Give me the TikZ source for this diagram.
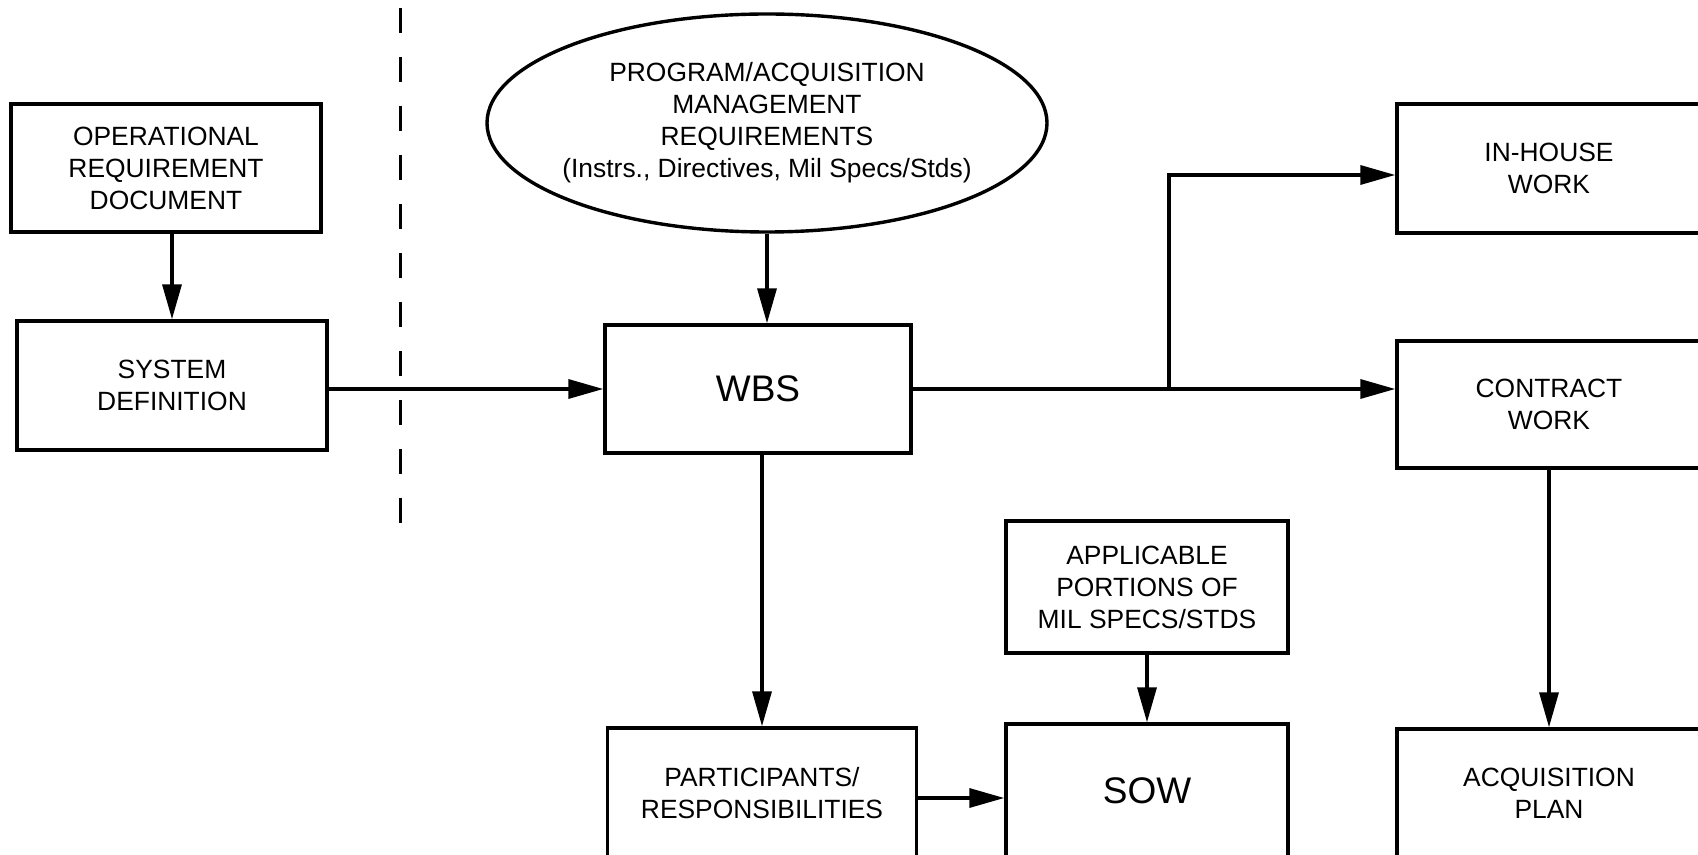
\documentclass[tikz,border=0pt]{standalone}
\usepackage{fontspec}
\setmainfont{Liberation Sans}
\usetikzlibrary{positioning, shapes.geometric, arrows.meta}
\tikzstyle{chart} = [x = .5pt, y = -.5pt]
\newcommand{\boxFont}{\fontsize{13.2}{16}\selectfont}
\newcommand{\bigBoxFont}{\fontsize{18.5}{22}\selectfont}
\tikzstyle{boxStyle} = [draw, line width = 1.7pt, inner sep = 0pt, align = center, font = \boxFont]
\tikzstyle{bigBoxStyle} = [boxStyle, font = \bigBoxFont]
\tikzstyle{ellipseStyle} = [draw, ellipse, line width = 1.7pt, inner sep = 0pt]
\tikzstyle{ellipseText} = [align = center, font = \boxFont]
\tikzstyle{flowArrow} = [line width = 1.7pt, -{Triangle[length = 17.5pt, width = 9.5pt]}]
\tikzstyle{dividerLine} = [line width = 1.5pt, dash pattern = on 12.5pt off 12pt]
\newcommand{\planBox}[5]{\node [boxStyle, minimum width = #3, minimum height = #4] (#1) at (#2) {#5};}
\newcommand{\bigPlanBox}[5]{\node [bigBoxStyle, minimum width = #3, minimum height = #4] (#1) at (#2) {#5};}

\begin{document}
\begin{tikzpicture}[chart]
  \useasboundingbox (0,0) rectangle (1698,855);

  % boxes
  \planBox{ord}{166,168}{155pt}{64pt}{OPERATIONAL\\REQUIREMENT\\DOCUMENT}
  \planBox{sysDef}{172,385.5}{155pt}{64.5pt}{SYSTEM\\DEFINITION}
  \bigPlanBox{wbs}{758,389}{153pt}{64pt}{WBS}
  \planBox{inHouse}{1549,168.5}{152pt}{64.5pt}{IN-HOUSE\\WORK}
  \planBox{contract}{1549,404.5}{152pt}{63.5pt}{CONTRACT\\WORK}
  \planBox{applicable}{1147,587}{141pt}{66pt}{APPLICABLE\\PORTIONS OF\\MIL SPECS/STDS}
  \bigPlanBox{sow}{1147,791}{141pt}{67pt}{SOW}
  \planBox{participants}{762,793}{154.5pt}{65pt}{PARTICIPANTS/\\RESPONSIBILITIES}
  \planBox{acqPlan}{1549,793.5}{152pt}{64.5pt}{ACQUISITION\\PLAN}

  \node [ellipseStyle, minimum width = 280pt, minimum height = 109pt] (progReq) at (767,123) {};
  \node [ellipseText] (progReqText) at (progReq.center) {PROGRAM/ACQUISITION\\MANAGEMENT\\REQUIREMENTS\\(Instrs., Directives, Mil Specs/Stds)};

  % dashed divider
  \coordinate (dividerTop) at (400,8);
  \coordinate (dividerBottom) at (400,523);
  \draw [dividerLine] (dividerTop) -- (dividerBottom);

  % arrows
  \coordinate (branch) at (1169,389);
  \draw [flowArrow] (ord.south -| sysDef) -- (sysDef.north);
  \draw [flowArrow] (sysDef.east |- wbs) -- (wbs.west);
  \draw [flowArrow] (progReq.south) -- (progReq.south |- wbs.north);
  \draw [flowArrow] (wbs.south -| participants) -- (participants.north);
  \draw [flowArrow] (wbs.east) -- (wbs.east -| contract.west);
  \draw [flowArrow] (branch) |- ([yshift = -3.25pt]inHouse.west);
  \draw [flowArrow] (applicable) -- (sow);
  \draw [flowArrow] ([yshift = -2.5pt]participants.east) -- ([yshift = -2.5pt]participants.east -| sow.west);
  \draw [flowArrow] (contract) -- (acqPlan);
\end{tikzpicture}
\end{document}
